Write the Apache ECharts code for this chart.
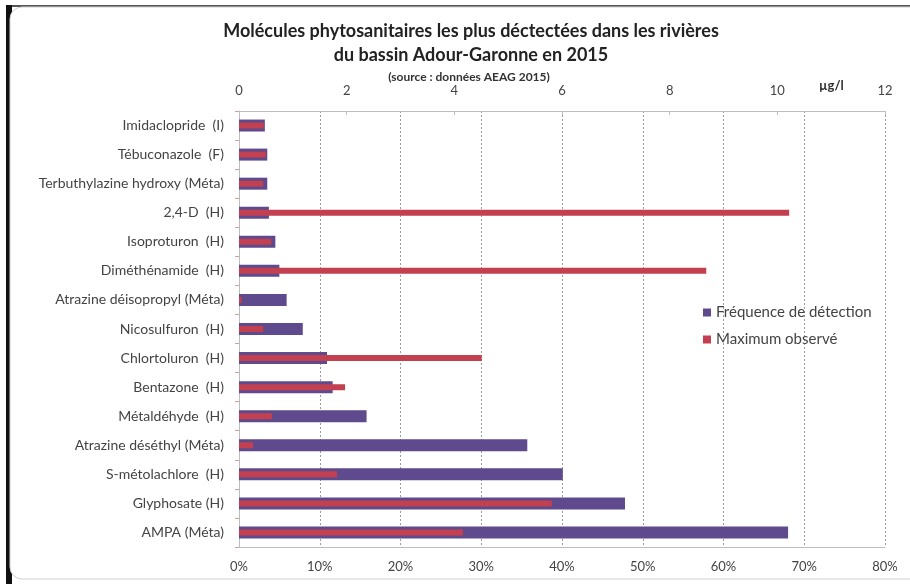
<!DOCTYPE html>
<html><head><meta charset="utf-8">
<script src="https://cdn.jsdelivr.net/npm/echarts@6/dist/echarts.min.js"></script>
<style>html,body{margin:0;padding:0;background:#fff}#c{width:910px;height:584px}</style>
</head><body><div id="c"></div>
<script>
const categories = ["Imidaclopride  (I)","Tébuconazole  (F)","Terbuthylazine hydroxy (Méta)","2,4-D  (H)","Isoproturon  (H)","Diméthénamide  (H)","Atrazine déisopropyl (Méta)","Nicosulfuron  (H)","Chlortoluron  (H)","Bentazone  (H)","Métaldéhyde  (H)","Atrazine déséthyl (Méta)","S-métolachlore  (H)","Glyphosate (H)","AMPA (Méta)"];
const frequence = [0.032,0.035,0.035,0.037,0.045,0.050,0.059,0.079,0.109,0.116,0.158,0.357,0.401,0.478,0.680];
const maximum = [0.46,0.50,0.45,10.22,0.60,8.68,0.05,0.45,4.51,1.97,0.61,0.26,1.82,5.81,4.16];
const pctTicks = [0,0.1,0.2,0.3,0.4,0.5,0.6,0.7,0.8];
const ugTicks = [0,2,4,6,8,10,12];

const FONT = 'Lato';
const chart = echarts.init(document.getElementById('c'));
chart.setOption({
  backgroundColor: '#fff',
  textStyle: {fontFamily: FONT},
  graphic: [
    {type:'rect', z:-10, shape:{x:6,y:5,width:904,height:2}, style:{fill:'#555'}},
    {type:'rect', z:-10, shape:{x:6,y:5,width:6,height:579}, style:{fill:'#111'}},
    {type:'rect', z:-9, shape:{x:10,y:7,width:910,height:572,r:[12,0,0,12]}, style:{fill:'#fff',stroke:'#cfcfcf',lineWidth:1}},
    {type:'text', left:819, top:79, style:{text:'µg/l', font:'bold 13px '+FONT, fill:'#333'}}
  ],
  title: [
    {text:'Molécules phytosanitaires les plus déctectées dans les rivières\ndu bassin Adour-Garonne en 2015', left:466, textAlign:'center', top:14,
     textStyle:{fontSize:18, fontWeight:'bold', color:'#222', lineHeight:24, fontFamily:FONT}},
    {text:'(source : données AEAG 2015)', left:464, textAlign:'center', top:66,
     textStyle:{fontSize:12, fontWeight:'bold', color:'#333', fontFamily:FONT}}
  ],
  legend: {
    orient:'vertical', left:698, top:300, itemWidth:8, itemHeight:8, itemGap:12,
    textStyle:{fontSize:15, color:'#444', fontFamily:FONT},
    data:[{name:'Fréquence de détection', icon:'rect'},{name:'Maximum observé', icon:'rect'}]
  },
  grid: {left:239, right:25, top:111, bottom:37, containLabel:false},
  xAxis: [
    {type:'value', position:'bottom', min:0, max:0.8, interval:0.1,
     axisLine:{show:true, lineStyle:{color:'#bdbdbd'}},
     axisTick:{show:false},
     axisLabel:{color:'#444', fontSize:13, margin:13, formatter:v=>Math.round(v*100)+'%'},
     splitLine:{show:true, lineStyle:{color:'#9a9a9a', type:[2,2], width:1}}},
    {type:'value', position:'top', min:0, max:12, interval:2,
     axisLine:{show:true, lineStyle:{color:'#bdbdbd'}},
     axisTick:{show:true, inside:true, length:4, lineStyle:{color:'#bdbdbd'}},
     axisLabel:{color:'#444', fontSize:13, margin:14},
     splitLine:{show:false}}
  ],
  yAxis: [
    {type:'category', data:categories, inverse:true,
     axisLine:{show:true, lineStyle:{color:'#bdbdbd'}},
     axisTick:{show:true, length:4, lineStyle:{color:'#d0a0a8'}},
     axisLabel:{color:'#444', fontSize:14, margin:15}},
    {type:'category', data:categories, inverse:true, show:false,
     axisLine:{show:false}, axisTick:{show:false}, axisLabel:{show:false}}
  ],
  series: [
    {name:'Fréquence de détection', type:'bar', xAxisIndex:0, yAxisIndex:0, data:frequence, barWidth:12,
     itemStyle:{color:'#5e4a8c'}},
    {name:'Maximum observé', type:'bar', xAxisIndex:1, yAxisIndex:1, data:maximum, barWidth:6,
     itemStyle:{color:'#c2404f'}}
  ]
});
</script></body></html>
